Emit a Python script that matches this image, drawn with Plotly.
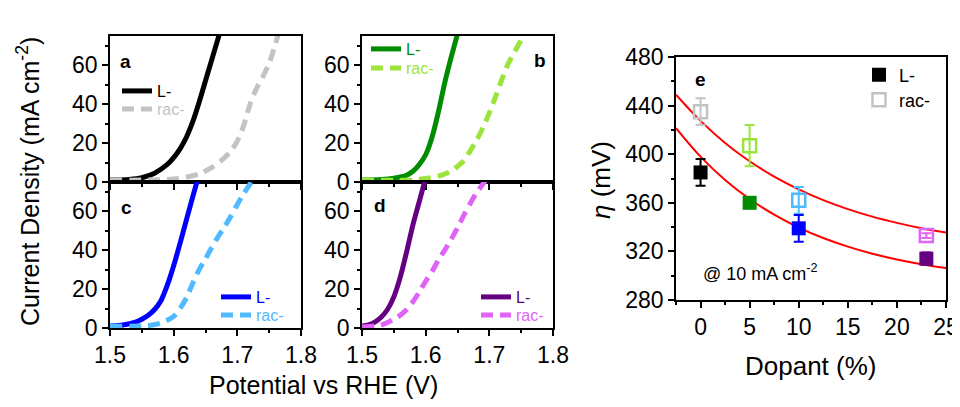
import plotly.graph_objects as go

# ---------------- data ----------------
# panel a (0 %)
a_L_x = [1.50, 1.53, 1.55, 1.57, 1.59, 1.60, 1.61, 1.62, 1.63, 1.64, 1.65, 1.66, 1.67, 1.68]
a_L_y = [1.0, 1.3, 2.2, 4.5, 9, 12.5, 17, 23, 31, 41, 52, 63, 74, 85]
a_R_x = [1.50, 1.56, 1.60, 1.62, 1.64, 1.66, 1.68, 1.69, 1.70, 1.71, 1.72, 1.73, 1.74, 1.75, 1.76, 1.77]
a_R_y = [1.0, 1.0, 1.5, 2.5, 4.2, 7.5, 12.5, 16, 21, 29, 40, 48, 54, 61, 71, 83]
# panel b (5 %)
b_L_x = [1.50, 1.53, 1.55, 1.57, 1.58, 1.59, 1.60, 1.61, 1.62, 1.63, 1.64, 1.65, 1.66]
b_L_y = [1.0, 1.3, 2.0, 3.5, 5.5, 9, 14, 23, 36, 51, 64, 76, 88]
b_R_x = [1.50, 1.58, 1.60, 1.62, 1.64, 1.65, 1.66, 1.67, 1.68, 1.69, 1.70, 1.71, 1.72, 1.73,
         1.74, 1.75, 1.76]
b_R_y = [1.0, 1.0, 1.8, 3, 5.5, 8, 11, 16, 21.5, 28, 35.5, 44, 53, 61, 67, 73, 80]
# panel c (10 %)
c_L_x = [1.50, 1.52, 1.54, 1.55, 1.56, 1.57, 1.58, 1.59, 1.60, 1.61, 1.62, 1.63, 1.64]
c_L_y = [1.0, 1.5, 3, 4.5, 6.5, 9.5, 14, 22, 32, 43.5, 55.5, 67.5, 79]
c_R_x = [1.50, 1.56, 1.58, 1.59, 1.60, 1.61, 1.62, 1.63, 1.64, 1.65, 1.66, 1.67, 1.68, 1.69,
         1.70, 1.71, 1.72, 1.73]
c_R_y = [1.0, 1.2, 2.5, 4, 6, 10, 15.5, 23, 30, 35.5, 41.5, 47, 52, 57.5, 63.5, 69, 74, 79]
# panel d (23 %)
d_L_x = [1.50, 1.51, 1.52, 1.53, 1.54, 1.55, 1.56, 1.57, 1.58, 1.59, 1.60, 1.61]
d_L_y = [1.0, 1.6, 3, 5.5, 9.5, 16, 26, 39, 53, 65, 77, 88]
d_R_x = [1.50, 1.52, 1.53, 1.54, 1.55, 1.56, 1.57, 1.58, 1.59, 1.60, 1.61, 1.62, 1.63, 1.64,
         1.65, 1.66, 1.67, 1.68, 1.69, 1.70]
d_R_y = [0.5, 1, 1.5, 2.8, 4.5, 6.5, 9.5, 13.5, 18.5, 24, 29, 35, 40, 45.5, 51.5, 58, 64, 69.5, 74, 79]

# panel e
dopant = [0, 5, 10, 23]
eta_L = [385, 360, 339, 314]
err_L = [11, 4, 11, 5]
eta_rac = [435, 407, 362, 333]
err_rac = [11, 17, 11, 2]
fit_x = [-2.5, 0, 2.5, 5, 7.5, 10, 12.5, 15, 17.5, 20, 22.5, 25]
fit_L = [421.5, 398, 378.8, 363.1, 350.2, 339.6, 331.0, 323.9, 318.1, 313.4, 309.5, 306.3]
fit_rac = [449.0, 427.4, 409.3, 394.2, 381.6, 371.1, 362.2, 354.8, 348.6, 343.5, 339.1, 335.5]

series_names = ["L-", "rac-"]
col_L = ['#000000', '#008c00', '#0000ff', '#650080']
col_R = ['#c3c3c3', '#9be43c', '#4fbaff', '#e063f8']

FONT = "Arial, Liberation Sans, sans-serif"
OFF = 8                      # page body margin of the html page
W, H = 960 - OFF, 407 - 2 * OFF


def px(x):
    return (x - OFF) / W


def py(y):
    return 1 - (y - OFF) / H


fig = go.Figure()

panels = [
    ("x", "y", a_L_x, a_L_y, a_R_x, a_R_y, 0),
    ("x2", "y2", b_L_x, b_L_y, b_R_x, b_R_y, 1),
    ("x3", "y3", c_L_x, c_L_y, c_R_x, c_R_y, 2),
    ("x4", "y4", d_L_x, d_L_y, d_R_x, d_R_y, 3),
]
for xa, ya, lx, ly, rx, ry, i in panels:
    lgL = "legend" if i == 0 else "legend%d" % (2 * i + 1)
    lgR = "legend%d" % (2 * i + 2)
    fig.add_trace(go.Scatter(
        x=lx, y=ly, xaxis=xa, yaxis=ya, mode="lines", legend=lgL,
        line=dict(color=col_L[i], width=5, shape="spline", smoothing=0.8),
        name="<span style='color:%s'>%s</span>" % (col_L[i], series_names[0])))
    fig.add_trace(go.Scatter(
        x=rx, y=ry, xaxis=xa, yaxis=ya, mode="lines", legend=lgR,
        line=dict(color=col_R[i], width=5, shape="spline", smoothing=0.8, dash="12px,7px"),
        name="<span style='color:%s'>%s</span>" % (col_R[i], series_names[1])))

# panel e fits
fig.add_trace(go.Scatter(x=fit_x, y=fit_rac, xaxis="x5", yaxis="y5", mode="lines",
                         line=dict(color="#ff0000", width=2, shape="spline"), showlegend=False))
fig.add_trace(go.Scatter(x=fit_x, y=fit_L, xaxis="x5", yaxis="y5", mode="lines",
                         line=dict(color="#ff0000", width=2, shape="spline"), showlegend=False))

for i in range(len(dopant)):
    fig.add_trace(go.Scatter(
        x=[dopant[i]], y=[eta_rac[i]], xaxis="x5", yaxis="y5", mode="markers",
        marker=dict(symbol="square-open", size=13, color=col_R[i], line=dict(width=2.5)),
        error_y=dict(type="data", array=[err_rac[i]], color=col_R[i], thickness=2, width=5),
        name=series_names[1], legend="legend10", showlegend=(i == 0)))
    fig.add_trace(go.Scatter(
        x=[dopant[i]], y=[eta_L[i]], xaxis="x5", yaxis="y5", mode="markers",
        marker=dict(symbol="square", size=14, color=col_L[i]),
        error_y=dict(type="data", array=[err_L[i]], color=col_L[i], thickness=2, width=5),
        name=series_names[0], legend="legend9", showlegend=(i == 0)))

tickfont = dict(family=FONT, size=23, color="black")
common = dict(showline=True, mirror=True, linecolor="black", linewidth=1.5,
              ticks="outside", ticklen=6, tickwidth=1.5, tickcolor="black",
              showgrid=False, zeroline=False, tickfont=tickfont, automargin=False,
              ticklabeloverflow="allow")

xa_dom = [px(110), px(301)]
xb_dom = [px(362), px(553)]
yt_dom = [py(182), py(36)]
yb_dom = [py(328), py(182)]


def xax(dom, anchor, labels):
    return dict(domain=dom, anchor=anchor, range=[1.5, 1.8], dtick=0.1, tick0=1.5,
                showticklabels=labels,
                minor=dict(dtick=0.05, ticks="outside", ticklen=3, tickcolor="black", tickwidth=1.5),
                **common)


def yax(dom, anchor):
    return dict(domain=dom, anchor=anchor, range=[0, 75], dtick=20, tick0=0,
                minor=dict(dtick=10, ticks="outside", ticklen=3, tickcolor="black", tickwidth=1.5),
                **common)


def leg(text_x, center_y, size=16):
    return dict(x=px(text_x - 39), y=py(center_y), xanchor="left", yanchor="middle",
                bgcolor="rgba(0,0,0,0)", borderwidth=0, itemwidth=30,
                font=dict(family=FONT, size=size, color="black"))


fig.update_layout(
    template="none",
    width=W, height=H, autosize=False,
    margin=dict(l=0, r=0, t=0, b=0, pad=0, autoexpand=False),
    paper_bgcolor="white", plot_bgcolor="white",
    font=dict(family=FONT, color="black"),
    xaxis=xax(xa_dom, "y", False), yaxis=yax(yt_dom, "x"),
    xaxis2=xax(xb_dom, "y2", False), yaxis2=yax(yt_dom, "x2"),
    xaxis3=xax(xa_dom, "y3", True), yaxis3=yax(yb_dom, "x3"),
    xaxis4=xax(xb_dom, "y4", True), yaxis4=yax(yb_dom, "x4"),
    xaxis5=dict(domain=[px(676), px(946)], anchor="y5", range=[-2.5, 25],
                tickvals=[0, 5, 10, 15, 20, 25],
                minor=dict(dtick=2.5, tick0=0, ticks="outside", ticklen=3, tickcolor="black", tickwidth=1.5),
                **common),
    yaxis5=dict(domain=[py(300), py(57)], anchor="x5", range=[280, 480], dtick=40, tick0=280,
                minor=dict(dtick=20, ticks="outside", ticklen=3, tickcolor="black", tickwidth=1.5),
                **common),
    legend=leg(156, 91), legend2=leg(156, 109),
    legend3=leg(405, 49), legend4=leg(405, 68),
    legend5=leg(255, 297), legend6=leg(255, 315),
    legend7=leg(515, 297), legend8=leg(515, 315),
    legend9=leg(898, 75, 18), legend10=leg(898, 100, 18),
)

ann = []
for txt, x, y in [("a", 125, 61), ("b", 540, 60), ("c", 126, 207), ("d", 380, 205), ("e", 700, 79)]:
    ann.append(dict(text="<b>%s</b>" % txt, x=px(x), y=py(y), xref="paper", yref="paper",
                    showarrow=False, font=dict(family=FONT, size=19, color="black"),
                    xanchor="center", yanchor="middle"))
ann.append(dict(text="Current Density (mA cm<sup>-2</sup>)", x=px(28), y=py(182), xref="paper",
                yref="paper", showarrow=False, textangle=-90,
                font=dict(family=FONT, size=25, color="black"), xanchor="center", yanchor="middle"))
ann.append(dict(text="Potential vs RHE (V)", x=px(323), y=py(385), xref="paper", yref="paper",
                showarrow=False, font=dict(family=FONT, size=25, color="black"),
                xanchor="center", yanchor="middle"))
ann.append(dict(text="<i>η</i> (mV)", x=px(601), y=py(180), xref="paper", yref="paper",
                showarrow=False, textangle=-90, font=dict(family=FONT, size=26, color="black"),
                xanchor="center", yanchor="middle"))
ann.append(dict(text="Dopant (%)", x=px(811), y=py(366), xref="paper", yref="paper",
                showarrow=False, font=dict(family=FONT, size=26, color="black"),
                xanchor="center", yanchor="middle"))
ann.append(dict(text="@ 10 mA cm<sup>-2</sup>", x=px(701), y=py(272), xref="paper", yref="paper",
                showarrow=False, font=dict(family=FONT, size=18, color="black"),
                xanchor="left", yanchor="middle"))
fig.update_layout(annotations=ann)

fig.write_html("out.html")
